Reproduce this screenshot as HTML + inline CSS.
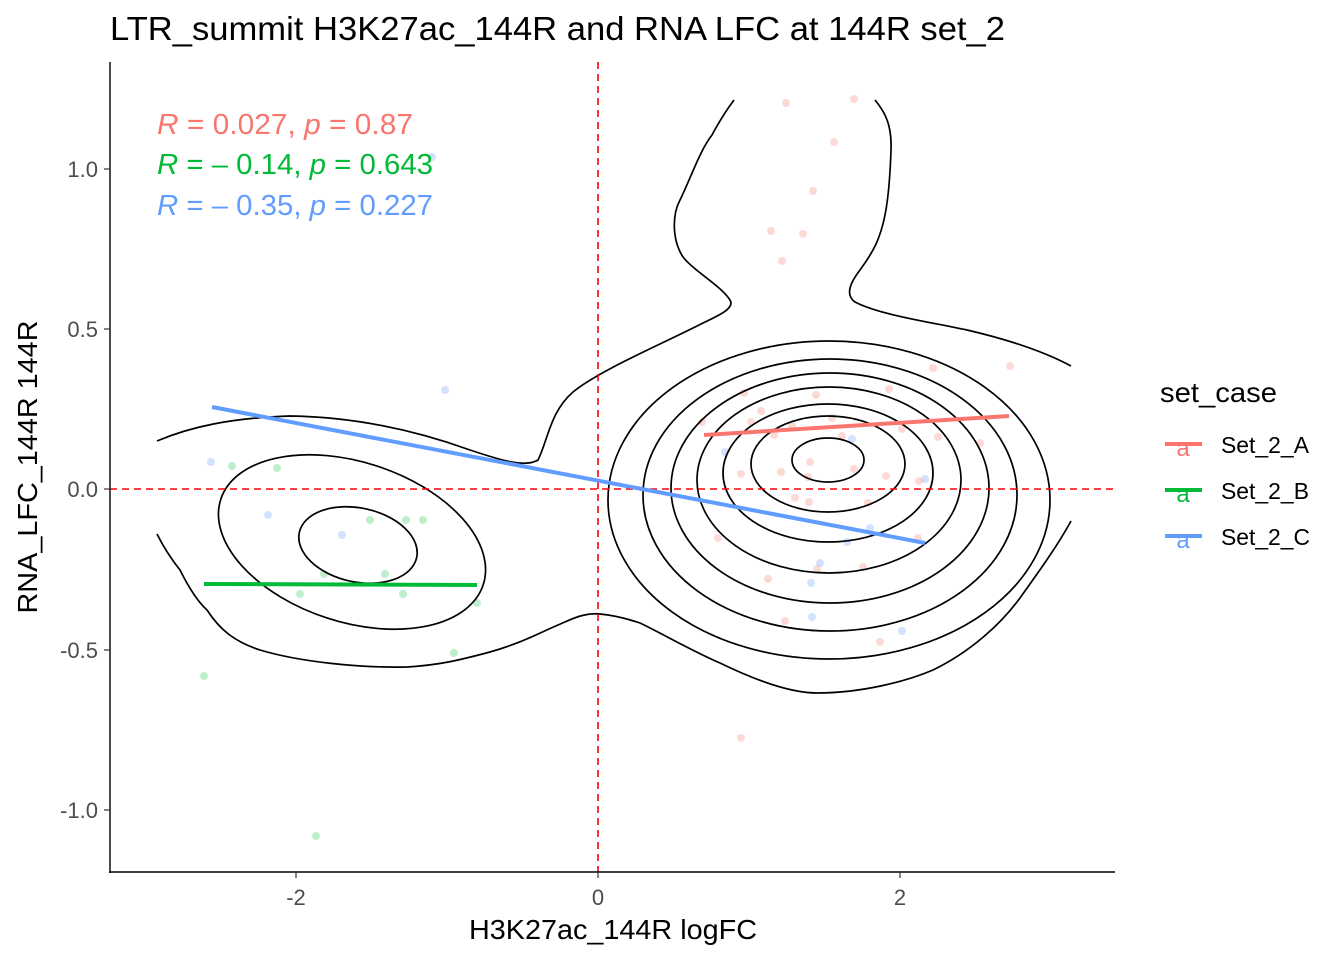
<!DOCTYPE html>
<html><head><meta charset="utf-8"><style>
html,body{margin:0;padding:0;background:#fff;}
svg{display:block;font-family:"Liberation Sans",Arial,sans-serif;}
</style></head><body>
<svg width="1344" height="960" viewBox="0 0 1344 960" xmlns="http://www.w3.org/2000/svg">
<rect width="1344" height="960" fill="#fff"/>
<text x="110" y="40" font-size="33" fill="#000" textLength="895" lengthAdjust="spacingAndGlyphs">LTR_summit H3K27ac_144R and RNA LFC at 144R set_2</text>

<!-- points -->
<g fill="#F8766D" fill-opacity="0.28">
<circle cx="786" cy="103" r="4"/><circle cx="854" cy="99" r="4"/><circle cx="834" cy="142" r="4"/><circle cx="813" cy="191" r="4"/><circle cx="771" cy="231" r="4"/><circle cx="803" cy="234" r="4"/><circle cx="782" cy="261" r="4"/>
<circle cx="933" cy="368" r="4"/><circle cx="1010" cy="366" r="4"/><circle cx="744" cy="393" r="4"/><circle cx="816" cy="395" r="4"/><circle cx="889" cy="389" r="4"/><circle cx="761" cy="411" r="4"/><circle cx="702" cy="422" r="4"/><circle cx="751" cy="422" r="4"/><circle cx="832" cy="418" r="4"/><circle cx="792" cy="426" r="4"/><circle cx="902" cy="429" r="4"/><circle cx="774" cy="435" r="4"/><circle cx="842" cy="436" r="4"/><circle cx="938" cy="437" r="4"/><circle cx="980" cy="443" r="4"/><circle cx="810" cy="462" r="4"/><circle cx="854" cy="469" r="4"/><circle cx="741" cy="474" r="4"/><circle cx="781" cy="472" r="4"/><circle cx="886" cy="476" r="4"/><circle cx="808" cy="477" r="4"/><circle cx="919" cy="481" r="4"/><circle cx="795" cy="498" r="4"/><circle cx="809" cy="502" r="4"/><circle cx="868" cy="503" r="4"/><circle cx="718" cy="538" r="4"/><circle cx="918" cy="538" r="4"/><circle cx="817" cy="569" r="4"/><circle cx="863" cy="567" r="4"/><circle cx="768" cy="579" r="4"/><circle cx="785" cy="621" r="4"/><circle cx="880" cy="642" r="4"/><circle cx="741" cy="738" r="4"/>
</g>
<g fill="#619CFF" fill-opacity="0.28">
<circle cx="852" cy="439" r="4"/><circle cx="725" cy="452" r="4"/><circle cx="925" cy="479" r="4"/><circle cx="870" cy="528" r="4"/><circle cx="847" cy="542" r="4"/><circle cx="820" cy="563" r="4"/><circle cx="811" cy="583" r="4"/><circle cx="812" cy="617" r="4"/><circle cx="902" cy="631" r="4"/><circle cx="445" cy="390" r="4"/><circle cx="211" cy="462" r="4"/><circle cx="268" cy="515" r="4"/><circle cx="342" cy="535" r="4"/><circle cx="432" cy="157" r="4"/>
</g>
<g fill="#00BA38" fill-opacity="0.25">
<circle cx="232" cy="466" r="4"/><circle cx="277" cy="468" r="4"/><circle cx="370" cy="520" r="4"/><circle cx="406" cy="520" r="4"/><circle cx="423" cy="520" r="4"/><circle cx="324" cy="574" r="4"/><circle cx="385" cy="574" r="4"/><circle cx="300" cy="594" r="4"/><circle cx="403" cy="594" r="4"/><circle cx="477" cy="603" r="4"/><circle cx="454" cy="653" r="4"/><circle cx="204" cy="676" r="4"/><circle cx="316" cy="836" r="4"/>
</g>

<!-- contours -->
<g fill="none" stroke="#000" stroke-width="1.7">
<ellipse cx="828" cy="460" rx="36" ry="22"/>
<ellipse cx="828" cy="464" rx="77" ry="48"/>
<ellipse cx="828" cy="473" rx="105" ry="69"/>
<ellipse cx="829" cy="480" rx="132" ry="93"/>
<ellipse cx="830" cy="488" rx="159" ry="115"/>
<ellipse cx="830" cy="495" rx="187" ry="136"/>
<ellipse cx="829" cy="500" rx="221" ry="159"/>
<ellipse cx="358" cy="545" rx="60" ry="37" transform="rotate(12 358 545)"/>
<ellipse cx="352" cy="542" rx="138" ry="80" transform="rotate(18 352 542)"/>
<path d="M157,441 C190,427 230,418 290,416 C360,417 420,432 470,450 C500,460 525,468 538,460 C548,440 550,412 573,392 C600,370 660,345 703,323 C720,315 735,308 730,300 C720,285 695,272 683,257 C672,240 672,215 680,200 C690,180 700,150 712,135 C720,120 728,108 734,100"/>
<path d="M875,100 C885,112 892,125 891,150 C890,180 888,200 885,215 C880,240 873,252 860,270 C850,283 845,295 855,302 C880,315 930,322 967,330 C1010,340 1045,352 1071,366"/>
<path d="M157,534 C165,550 172,560 180,570 C190,590 198,602 207,610 C220,630 235,642 260,650 C300,662 360,668 407,667 C440,665 460,660 490,652 C525,642 545,630 565,622 C580,615 590,613 600,614 C612,615 625,618 640,623 C665,635 690,650 720,663 C755,680 790,693 817,693 C860,693 905,682 933,670 C970,652 1000,625 1020,598 C1040,570 1058,545 1071,521"/>
</g>

<!-- dashed lines -->
<g stroke="#FF0000" stroke-width="1.6" stroke-dasharray="7,5">
<line x1="598" y1="62" x2="598" y2="872"/>
<line x1="110" y1="489" x2="1115" y2="489"/>
</g>

<!-- regression lines -->
<g stroke-width="4" stroke-linecap="butt">
<line x1="704" y1="435" x2="1009" y2="416" stroke="#F8766D"/>
<line x1="212" y1="407" x2="925" y2="543" stroke="#619CFF"/>
<line x1="204" y1="584" x2="477" y2="585" stroke="#00BA38"/>
</g>

<!-- annotations -->
<text x="157" y="134" fill="#F8766D" font-size="29" textLength="256" lengthAdjust="spacingAndGlyphs"><tspan font-style="italic">R</tspan> = 0.027, <tspan font-style="italic">p</tspan> = 0.87</text>
<text x="157" y="174" fill="#00BA38" font-size="29" textLength="276" lengthAdjust="spacingAndGlyphs"><tspan font-style="italic">R</tspan> = – 0.14, <tspan font-style="italic">p</tspan> = 0.643</text>
<text x="157" y="215" fill="#619CFF" font-size="29" textLength="276" lengthAdjust="spacingAndGlyphs"><tspan font-style="italic">R</tspan> = – 0.35, <tspan font-style="italic">p</tspan> = 0.227</text>

<!-- axes -->
<g stroke="#000" stroke-width="1.4">
<line x1="110" y1="62" x2="110" y2="873"/>
<line x1="109" y1="872" x2="1115" y2="872"/>
</g>
<g stroke="#333" stroke-width="1.2">
<line x1="104" y1="169" x2="110" y2="169"/><line x1="104" y1="329" x2="110" y2="329"/><line x1="104" y1="489" x2="110" y2="489"/><line x1="104" y1="650" x2="110" y2="650"/><line x1="104" y1="810" x2="110" y2="810"/>
<line x1="296" y1="872" x2="296" y2="878"/><line x1="598" y1="872" x2="598" y2="878"/><line x1="900" y1="872" x2="900" y2="878"/>
</g>
<g font-size="22" fill="#4d4d4d" text-anchor="end">
<text x="98" y="177">1.0</text><text x="98" y="337">0.5</text><text x="98" y="497">0.0</text><text x="98" y="658">-0.5</text><text x="98" y="818">-1.0</text>
</g>
<g font-size="22" fill="#4d4d4d" text-anchor="middle">
<text x="296" y="905">-2</text><text x="598" y="905">0</text><text x="900" y="905">2</text>
</g>
<text x="613" y="939" font-size="28" text-anchor="middle" fill="#000" textLength="288" lengthAdjust="spacingAndGlyphs">H3K27ac_144R logFC</text>
<text transform="translate(37,467) rotate(-90)" font-size="28" text-anchor="middle" fill="#000" textLength="293" lengthAdjust="spacingAndGlyphs">RNA_LFC_144R 144R</text>

<!-- legend -->
<text x="1160" y="402" font-size="28" fill="#000" textLength="117" lengthAdjust="spacingAndGlyphs">set_case</text>
<g stroke-width="4">
<line x1="1165" y1="444" x2="1202" y2="444" stroke="#F8766D"/>
<line x1="1165" y1="490" x2="1202" y2="490" stroke="#00BA38"/>
<line x1="1165" y1="536" x2="1202" y2="536" stroke="#619CFF"/>
</g>
<g font-size="24" text-anchor="middle">
<text x="1183" y="456" fill="#F8766D">a</text>
<text x="1183" y="502" fill="#00BA38">a</text>
<text x="1183" y="548" fill="#619CFF">a</text>
</g>
<g font-size="23" fill="#000">
<text x="1221" y="453" textLength="88" lengthAdjust="spacingAndGlyphs">Set_2_A</text>
<text x="1221" y="499" textLength="88" lengthAdjust="spacingAndGlyphs">Set_2_B</text>
<text x="1221" y="545" textLength="89" lengthAdjust="spacingAndGlyphs">Set_2_C</text>
</g>
</svg>
</body></html>
